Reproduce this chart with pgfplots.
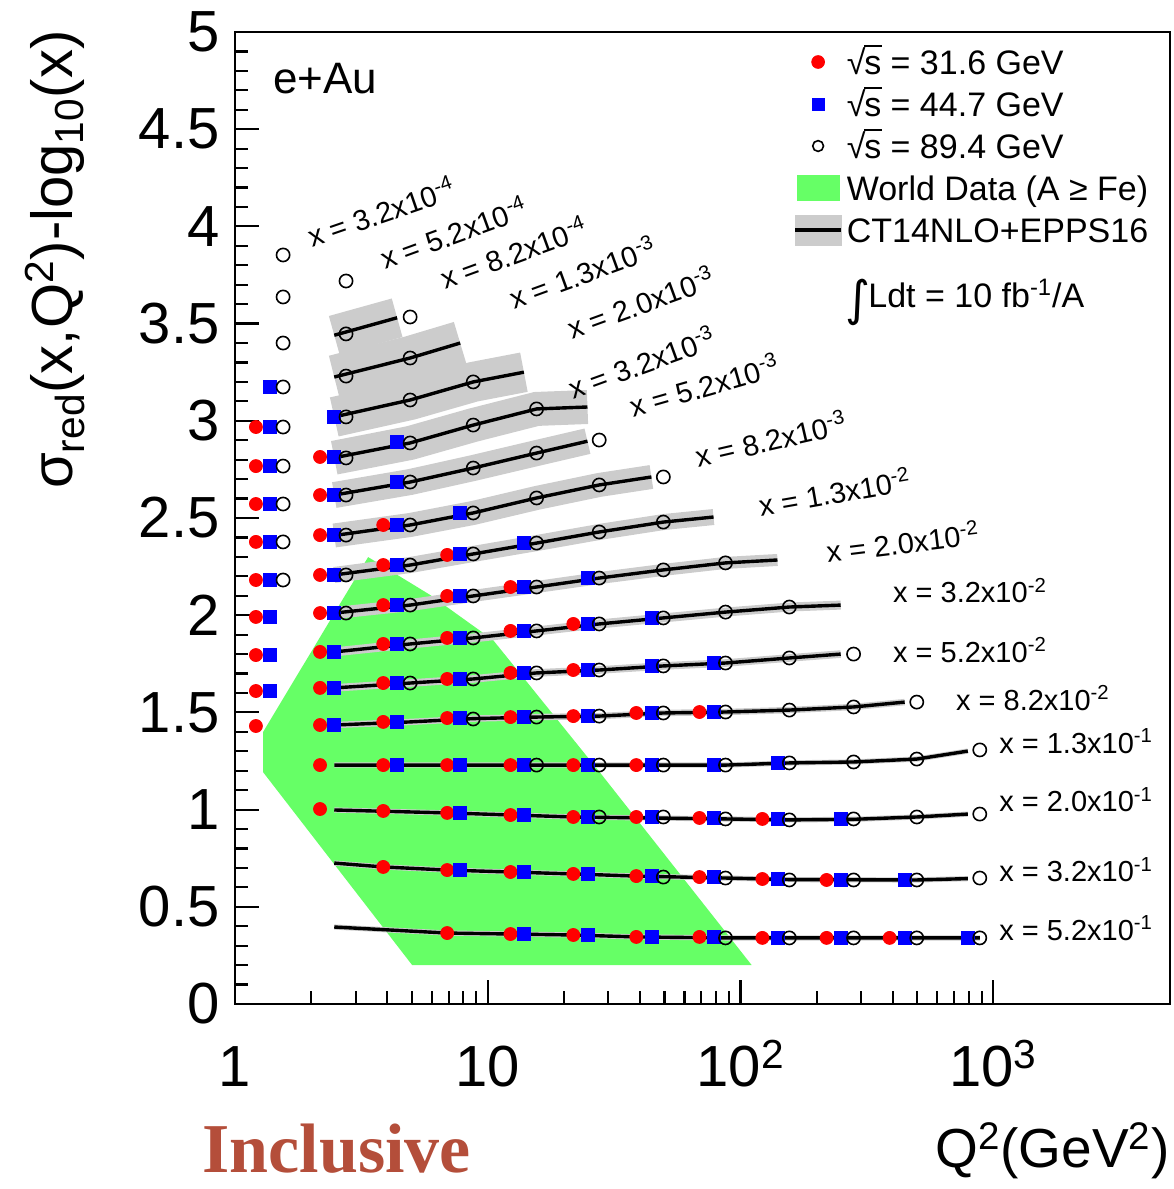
\documentclass[border=0pt]{standalone}
\usepackage{fontspec}
\setmainfont{Liberation Sans}
\newfontfamily\serifbrown{Liberation Serif}
\newfontfamily\dejavu{DejaVu Sans}
\usepackage{pgfplots}
\pgfplotsset{compat=1.18}
\definecolor{wgreen}{RGB}{102,255,102}
\definecolor{bandgray}{RGB}{204,204,204}
\definecolor{incl}{RGB}{180,78,58}
\newcommand\tickfont{\fontsize{29}{32}\selectfont}
\newcommand\labfont{\fontsize{14.5}{16}\selectfont}
\newcommand\legfont{\fontsize{17}{20}\selectfont}
\newcommand\rs{√\kern-0.6pt\rlap{\rule[0.80em]{0.52em}{0.06em}}s}
\begin{document}
\begin{tikzpicture}
\path[use as bounding box] (-117.5pt,-92.5pt) rectangle (469pt,502pt);
\begin{axis}[
  at={(0pt,0pt)}, anchor=south west,
  scale only axis, width=467.5pt, height=486pt,
  xmode=log, xmin=1, xmax=5000, ymin=0, ymax=5,
  clip=false,
  axis line style={line width=1.2pt},
  tick align=inside, tick pos=left,
  major tick length=12pt, minor tick length=6.5pt,
  tick style={line width=1.1pt, black},
  xtick={1,10,100,1000},
  xticklabels={1,10,10\textsuperscript{2},10\textsuperscript{3}},
  ytick={0,0.5,1,1.5,2,2.5,3,3.5,4,4.5,5},
  yticklabels={0,0.5,1,1.5,2,2.5,3,3.5,4,4.5,5},
  minor y tick num=4,
  yticklabel style={font=\tickfont, anchor=east, inner sep=0pt, xshift=-7.5pt},
  xticklabel style={font=\tickfont, anchor=north, inner sep=0pt, text height=21pt, yshift=-20pt},
  legend style={at={(0.5968,0.9860)}, anchor=north west, draw=none, fill=none,
    inner sep=0pt, font=\legfont, row sep=5pt, column sep=2pt,
    nodes={inner sep=0pt, text height=14pt, text depth=2pt}},
  legend cell align=left,
]
% legend entries
\addlegendimage{legend image code/.code={\fill[red] (10.5pt,0pt) circle (3.2pt);}}
\addlegendentry{\rs{} = 31.6 GeV}
\addlegendimage{legend image code/.code={\fill[blue] (7.5pt,-3pt) rectangle (13.5pt,3pt);}}
\addlegendentry{\rs{} = 44.7 GeV}
\addlegendimage{legend image code/.code={\draw[black,line width=0.8pt] (10.5pt,0pt) circle (2.7pt);}}
\addlegendentry{\rs{} = 89.4 GeV}
\addlegendimage{legend image code/.code={\fill[wgreen] (0pt,-6.25pt) rectangle (21pt,6.25pt);}}
\addlegendentry{World Data (A ≥ Fe)}
\addlegendimage{legend image code/.code={\fill[bandgray] (-1pt,-7.5pt) rectangle (22pt,7.5pt); \draw[black,line width=1.7pt] (-1pt,0pt) -- (22pt,0pt);}}
\addlegendentry{CT14NLO+EPPS16}

% World data region
\addplot[fill=wgreen, draw=none, forget plot] coordinates {
 (3.363,2.299) (5.92,2.104) (10.5,1.872) (27.9,1.188) (110.6,0.2006)
 (5.02,0.2006) (1.291,1.193) (1.291,1.399)};

% theory bands
\addplot[bandgray, line width=20pt, forget plot] coordinates {(2.47,3.44) (4.38,3.53)};
\addplot[bandgray, line width=22pt, forget plot] coordinates {(2.47,3.225) (4.93,3.323) (7.78,3.40)};
\addplot[bandgray, line width=20pt, forget plot] coordinates {(2.47,3.02) (4.93,3.107) (8.76,3.20) (13.9,3.25)};
\addplot[bandgray, line width=17pt, forget plot] coordinates {(2.47,2.81) (4.93,2.886) (8.76,2.978) (15.6,3.061) (24.8,3.071)};
\addplot[bandgray, line width=13pt, forget plot] coordinates {(2.47,2.618) (4.93,2.685) (8.76,2.757) (15.6,2.834) (24.8,2.895)};
\addplot[bandgray, line width=12pt, forget plot] coordinates {(2.47,2.41) (4.93,2.464) (8.76,2.526) (15.6,2.603) (27.6,2.670) (44.4,2.711)};
\addplot[bandgray, line width=8pt, forget plot] coordinates {(2.47,2.207) (4.93,2.258) (8.76,2.315) (15.6,2.371) (27.6,2.428) (49.5,2.479) (78.2,2.505)};
\addplot[bandgray, line width=6pt, forget plot] coordinates {(2.47,2.011) (4.93,2.052) (8.76,2.099) (15.6,2.145) (27.6,2.191) (49.5,2.233) (87.2,2.269) (140,2.284)};
\addplot[bandgray, line width=4.5pt, forget plot] coordinates {(2.47,1.811) (4.93,1.852) (8.76,1.883) (15.6,1.919) (27.6,1.955) (49.5,1.986) (87.2,2.016) (156,2.042) (249,2.052)};
\addplot[bandgray, line width=3.8pt, forget plot] coordinates {(2.47,1.626) (4.93,1.651) (8.76,1.672) (15.6,1.703) (27.6,1.718) (49.5,1.739) (87.2,1.754) (156,1.780) (249,1.80)};
\addplot[bandgray, line width=3.2pt, forget plot] coordinates {(2.47,1.435) (4.93,1.451) (8.76,1.468) (15.6,1.476) (27.6,1.481) (49.5,1.497) (87.2,1.502) (156,1.512) (280,1.528) (446,1.553)};
\addplot[bandgray, line width=2.6pt, forget plot] coordinates {(2.47,1.229) (87.2,1.229) (156,1.240) (280,1.245) (498,1.260) (793,1.301)};
\addplot[bandgray, line width=2.6pt, forget plot] coordinates {(2.47,0.998) (6.91,0.983) (21.8,0.962) (87.2,0.952) (156,0.947) (280,0.950) (498,0.962) (793,0.977)};
\addplot[bandgray, line width=2.6pt, forget plot] coordinates {(2.47,0.725) (3.86,0.705) (6.91,0.689) (12.3,0.679) (21.8,0.669) (38.7,0.658) (87.2,0.648) (156,0.640) (498,0.638) (793,0.645)};
\addplot[bandgray, line width=2.6pt, forget plot] coordinates {(2.47,0.396) (6.91,0.365) (12.3,0.36) (21.8,0.355) (38.7,0.345) (87.2,0.340) (884,0.340)};

% theory central lines
\pgfplotsset{theo/.style={black, line width=1.7pt, forget plot}}
\addplot[theo] coordinates {(2.47,3.44) (4.38,3.53)};
\addplot[theo] coordinates {(2.47,3.225) (4.93,3.323) (7.78,3.40)};
\addplot[theo] coordinates {(2.47,3.02) (4.93,3.107) (8.76,3.20) (13.9,3.25)};
\addplot[theo] coordinates {(2.47,2.81) (4.93,2.886) (8.76,2.978) (15.6,3.061) (24.8,3.071)};
\addplot[theo] coordinates {(2.47,2.618) (4.93,2.685) (8.76,2.757) (15.6,2.834) (24.8,2.895)};
\addplot[theo] coordinates {(2.47,2.41) (4.93,2.464) (8.76,2.526) (15.6,2.603) (27.6,2.670) (44.4,2.711)};
\addplot[theo] coordinates {(2.47,2.207) (4.93,2.258) (8.76,2.315) (15.6,2.371) (27.6,2.428) (49.5,2.479) (78.2,2.505)};
\addplot[theo] coordinates {(2.47,2.011) (4.93,2.052) (8.76,2.099) (15.6,2.145) (27.6,2.191) (49.5,2.233) (87.2,2.269) (140,2.284)};
\addplot[theo] coordinates {(2.47,1.811) (4.93,1.852) (8.76,1.883) (15.6,1.919) (27.6,1.955) (49.5,1.986) (87.2,2.016) (156,2.042) (249,2.052)};
\addplot[theo] coordinates {(2.47,1.626) (4.93,1.651) (8.76,1.672) (15.6,1.703) (27.6,1.718) (49.5,1.739) (87.2,1.754) (156,1.780) (249,1.80)};
\addplot[theo] coordinates {(2.47,1.435) (4.93,1.451) (8.76,1.468) (15.6,1.476) (27.6,1.481) (49.5,1.497) (87.2,1.502) (156,1.512) (280,1.528) (446,1.553)};
\addplot[theo] coordinates {(2.47,1.229) (87.2,1.229) (156,1.240) (280,1.245) (498,1.260) (793,1.301)};
\addplot[theo] coordinates {(2.47,0.998) (6.91,0.983) (21.8,0.962) (87.2,0.952) (156,0.947) (280,0.950) (498,0.962) (793,0.977)};
\addplot[theo] coordinates {(2.47,0.725) (3.86,0.705) (6.91,0.689) (12.3,0.679) (21.8,0.669) (38.7,0.658) (87.2,0.648) (156,0.640) (498,0.638) (793,0.645)};
\addplot[theo] coordinates {(2.47,0.396) (6.91,0.365) (12.3,0.36) (21.8,0.355) (38.7,0.345) (87.2,0.340) (884,0.340)};

% sqrt(s) = 31.6 GeV
\addplot[only marks, mark=*, mark size=3.25pt, mark options={draw=red, fill=red}, forget plot] coordinates {
 (1.21,2.968)
 (1.21,2.767) (2.17,2.814)
 (1.21,2.572) (2.17,2.618)
 (1.21,2.377) (2.17,2.412) (3.86,2.464)
 (1.21,2.181) (2.17,2.207) (3.86,2.258) (6.91,2.31)
 (1.21,1.991) (2.17,2.011) (3.86,2.052) (6.91,2.099) (12.3,2.145)
 (1.21,1.795) (2.17,1.811) (3.86,1.852) (6.91,1.883) (12.3,1.919) (21.8,1.955)
 (1.21,1.610) (2.17,1.626) (3.86,1.651) (6.91,1.672) (12.3,1.703) (21.8,1.718)
 (1.21,1.430) (2.17,1.435) (3.86,1.451) (6.91,1.471) (12.3,1.476) (21.8,1.481) (38.7,1.497) (68.8,1.502)
 (2.17,1.229) (3.86,1.229) (6.91,1.229) (12.3,1.229) (21.8,1.229) (38.7,1.229)
 (2.17,1.003) (3.86,0.993) (6.91,0.983) (12.3,0.972) (21.8,0.962) (38.7,0.962) (68.8,0.957) (122,0.952)
 (3.86,0.705) (6.91,0.689) (12.3,0.679) (21.8,0.669) (38.7,0.658) (68.8,0.653) (122,0.643) (219,0.638)
 (6.91,0.365) (12.3,0.360) (21.8,0.355) (38.7,0.345) (68.8,0.345) (122,0.340) (219,0.340) (389,0.340)
};
% sqrt(s) = 44.7 GeV
\addplot[only marks, mark=square*, mark size=3.25pt, mark options={draw=blue, fill=blue}, forget plot] coordinates {
 (1.38,3.174)
 (1.38,2.968) (2.47,3.020)
 (1.38,2.767) (2.47,2.814) (4.38,2.891)
 (1.38,2.572) (2.47,2.618) (4.38,2.685)
 (1.38,2.377) (2.47,2.412) (4.38,2.464) (7.78,2.526)
 (1.38,2.181) (2.47,2.207) (4.38,2.258) (7.78,2.315) (13.9,2.371)
 (1.38,1.991) (2.47,2.011) (4.38,2.052) (7.78,2.099) (13.9,2.145) (24.8,2.191)
 (1.38,1.795) (2.47,1.811) (4.38,1.852) (7.78,1.883) (13.9,1.919) (24.8,1.955) (44.4,1.986)
 (1.38,1.610) (2.47,1.626) (4.38,1.651) (7.78,1.672) (13.9,1.703) (24.8,1.718) (44.4,1.739) (78.2,1.754)
 (2.47,1.435) (4.38,1.451) (7.78,1.471) (13.9,1.476) (24.8,1.481) (44.4,1.497) (78.2,1.502)
 (4.38,1.229) (7.78,1.229) (13.9,1.229) (24.8,1.229) (44.4,1.229) (78.2,1.229) (140,1.240)
 (7.78,0.983) (13.9,0.972) (24.8,0.962) (44.4,0.962) (78.2,0.957) (140,0.952) (249,0.952)
 (7.78,0.689) (13.9,0.679) (24.8,0.669) (44.4,0.658) (78.2,0.653) (140,0.643) (249,0.638) (446,0.638)
 (13.9,0.360) (24.8,0.355) (44.4,0.345) (78.2,0.345) (140,0.340) (249,0.340) (446,0.340) (793,0.340)
};
% sqrt(s) = 89.4 GeV
\addplot[only marks, mark=o, mark size=3.3pt, mark options={draw=black, line width=0.8pt}, forget plot] coordinates {
 (1.55,3.853)
 (1.55,3.637) (2.75,3.719)
 (1.55,3.400) (2.75,3.447) (4.93,3.534)
 (1.55,3.174) (2.75,3.230) (4.93,3.323)
 (1.55,2.968) (2.75,3.020) (4.93,3.107) (8.76,3.200)
 (1.55,2.767) (2.75,2.809) (4.93,2.886) (8.76,2.978) (15.6,3.061)
 (1.55,2.572) (2.75,2.618) (4.93,2.685) (8.76,2.757) (15.6,2.834) (27.6,2.901)
 (1.55,2.377) (2.75,2.412) (4.93,2.464) (8.76,2.526) (15.6,2.603) (27.6,2.670) (49.5,2.711)
 (1.55,2.181) (2.75,2.207) (4.93,2.258) (8.76,2.315) (15.6,2.371) (27.6,2.428) (49.5,2.479)
 (2.75,2.011) (4.93,2.052) (8.76,2.099) (15.6,2.145) (27.6,2.191) (49.5,2.233) (87.2,2.269)
 (4.93,1.852) (8.76,1.883) (15.6,1.919) (27.6,1.955) (49.5,1.986) (87.2,2.016) (156,2.042)
 (4.93,1.651) (8.76,1.672) (15.6,1.703) (27.6,1.718) (49.5,1.739) (87.2,1.754) (156,1.780) (280,1.800)
 (8.76,1.466) (15.6,1.476) (27.6,1.481) (49.5,1.497) (87.2,1.502) (156,1.512) (280,1.528) (498,1.553)
 (15.6,1.229) (27.6,1.229) (49.5,1.229) (87.2,1.229) (156,1.240) (280,1.245) (498,1.260) (884,1.307)
 (27.6,0.962) (49.5,0.962) (87.2,0.952) (156,0.947) (280,0.952) (498,0.962) (884,0.977)
 (49.5,0.653) (87.2,0.648) (156,0.638) (280,0.638) (498,0.638) (884,0.648)
 (87.2,0.340) (156,0.340) (280,0.340) (498,0.340) (884,0.340)
};

% x-bin labels
\node[anchor=base west, rotate=19, font=\labfont, inner sep=0pt] at (axis cs:2.018,3.889) {x = 3.2x10\textsuperscript{-4}};
\node[anchor=base west, rotate=20, font=\labfont, inner sep=0pt] at (axis cs:3.93,3.776) {x = 5.2x10\textsuperscript{-4}};
\node[anchor=base west, rotate=20, font=\labfont, inner sep=0pt] at (axis cs:6.79,3.673) {x = 8.2x10\textsuperscript{-4}};
\node[anchor=base west, rotate=20, font=\labfont, inner sep=0pt] at (axis cs:12.7,3.570) {x = 1.3x10\textsuperscript{-3}};
\node[anchor=base west, rotate=20, font=\labfont, inner sep=0pt] at (axis cs:21.6,3.416) {x = 2.0x10\textsuperscript{-3}};
\node[anchor=base west, rotate=20, font=\labfont, inner sep=0pt] at (axis cs:21.8,3.107) {x = 3.2x10\textsuperscript{-3}};
\node[anchor=base west, rotate=16, font=\labfont, inner sep=0pt] at (axis cs:37.7,3.014) {x = 5.2x10\textsuperscript{-3}};
\node[anchor=base west, rotate=13, font=\labfont, inner sep=0pt] at (axis cs:68.2,2.757) {x = 8.2x10\textsuperscript{-3}};
\node[anchor=base west, rotate=10, font=\labfont, inner sep=0pt] at (axis cs:120,2.505) {x = 1.3x10\textsuperscript{-2}};
\node[anchor=base west, rotate=7, font=\labfont, inner sep=0pt] at (axis cs:221,2.269) {x = 2.0x10\textsuperscript{-2}};
\node[anchor=base west, font=\labfont, inner sep=0pt] at (axis cs:400,2.063) {x = 3.2x10\textsuperscript{-2}};
\node[anchor=base west, font=\labfont, inner sep=0pt] at (axis cs:400,1.759) {x = 5.2x10\textsuperscript{-2}};
\node[anchor=base west, font=\labfont, inner sep=0pt] at (axis cs:710,1.512) {x = 8.2x10\textsuperscript{-2}};
\node[anchor=base west, font=\labfont, inner sep=0pt] at (axis cs:1052,1.291) {x = 1.3x10\textsuperscript{-1}};
\node[anchor=base west, font=\labfont, inner sep=0pt] at (axis cs:1052,0.988) {x = 2.0x10\textsuperscript{-1}};
\node[anchor=base west, font=\labfont, inner sep=0pt] at (axis cs:1052,0.628) {x = 3.2x10\textsuperscript{-1}};
\node[anchor=base west, font=\labfont, inner sep=0pt] at (axis cs:1052,0.329) {x = 5.2x10\textsuperscript{-1}};

% annotations
\node[anchor=base west, inner sep=0pt, font=\fontsize{22}{24}\selectfont] at (rel axis cs:0.0406,0.9372) {e+Au};
\node[anchor=base west, inner sep=0pt, font=\legfont] at (rel axis cs:0.6524,0.7165) {\raisebox{-0.22em}{\dejavu\fontsize{24}{24}\selectfont ∫}\kern-1pt Ldt = 10 fb\textsuperscript{-1}/A};
\node[rotate=90, anchor=base east, inner sep=0pt, font=\tickfont] at (rel axis cs:-0.1743,1.002) {σ\textsubscript{red}(x,Q\textsuperscript{2})-log\textsubscript{10}(x)};
\node[anchor=base east, inner sep=0pt, font=\fontsize{27.5}{29}\selectfont] at (rel axis cs:1.0,-0.1687) {Q\textsuperscript{2}(GeV\textsuperscript{2})};
\node[anchor=base west, inner sep=0pt, text=incl, font=\serifbrown\bfseries\fontsize{35}{38}\selectfont] at (rel axis cs:-0.0353,-0.173) {Inclusive};
\end{axis}
\end{tikzpicture}
\end{document}
